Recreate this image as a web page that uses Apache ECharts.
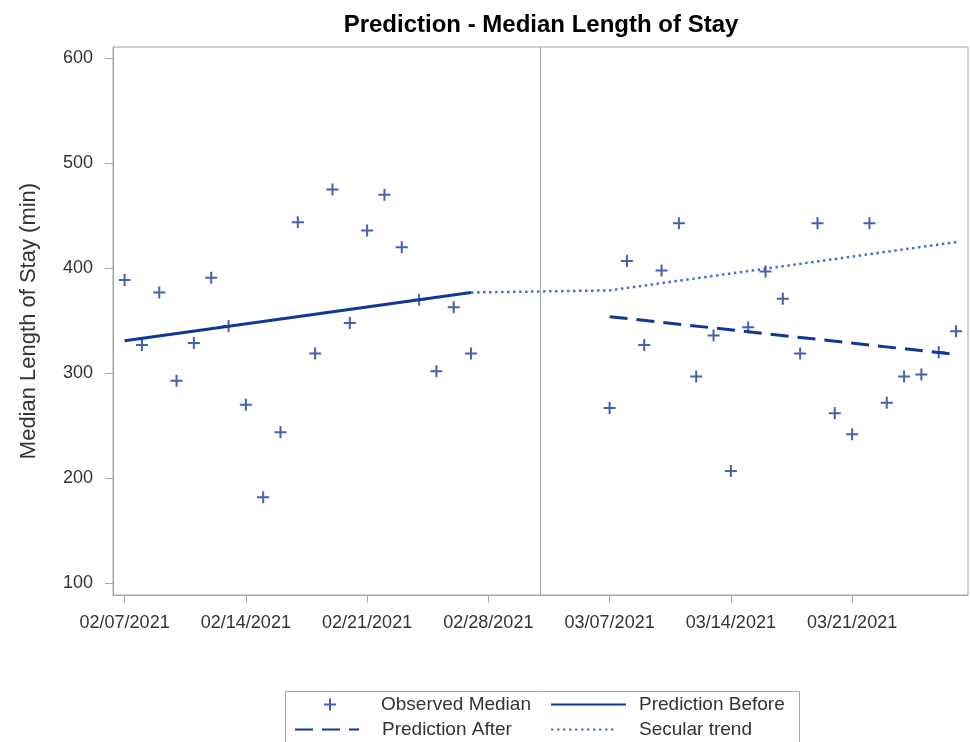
<!DOCTYPE html>
<html>
<head>
<meta charset="utf-8">
<title>Prediction - Median Length of Stay</title>
<script src="https://cdn.jsdelivr.net/npm/echarts@6.0.0/dist/echarts.min.js"></script>
<style>
  html, body { margin: 0; padding: 0; background: #fff; }
  #chart { width: 970px; height: 742px; }
</style>
</head>
<body>
<div id="chart"></div>
<script>
// observed daily medians, before and after the intervention
var beforeDates = ["02/07/2021", "02/08/2021", "02/09/2021", "02/10/2021", "02/11/2021", "02/12/2021", "02/13/2021",
  "02/14/2021", "02/15/2021", "02/16/2021", "02/17/2021", "02/18/2021", "02/19/2021", "02/20/2021",
  "02/21/2021", "02/22/2021", "02/23/2021", "02/24/2021", "02/25/2021", "02/26/2021", "02/27/2021"];
var beforeValues = [389, 327, 377, 293, 329, 391, 345, 270, 182, 244, 444, 319, 475, 348, 436, 470, 420, 370, 302, 363, 319];

var afterDates = ["03/07/2021", "03/08/2021", "03/09/2021", "03/10/2021", "03/11/2021", "03/12/2021", "03/13/2021",
  "03/14/2021", "03/15/2021", "03/16/2021", "03/17/2021", "03/18/2021", "03/19/2021", "03/20/2021",
  "03/21/2021", "03/22/2021", "03/23/2021", "03/24/2021", "03/25/2021", "03/26/2021", "03/27/2021"];
var afterValues = [267, 407, 327, 398, 443, 297, 336, 207, 344, 397, 371, 319, 443, 262, 242, 443, 272, 297, 299, 320, 340];

// fitted lines
var predBeforeDates = ["02/07/2021", "02/27/2021"];
var predBeforeValues = [331, 377];
var predAfterDates = ["03/07/2021", "03/27/2021"];
var predAfterValues = [354, 318];
var secularDates = ["02/27/2021", "03/07/2021", "03/27/2021"];
var secularValues = [377, 379, 425];

var interventionDate = "03/03/2021";
var xTickDates = ["02/07/2021", "02/14/2021", "02/21/2021", "02/28/2021", "03/07/2021", "03/14/2021", "03/21/2021"];
var yTicks = [100, 200, 300, 400, 500, 600];

var DAY = 86400000;
function toTime(s) {
  var p = s.split("/");
  return Date.UTC(+p[2], +p[0] - 1, +p[1]);
}
function fmtDate(v) {
  var d = new Date(v);
  var mm = ("0" + (d.getUTCMonth() + 1)).slice(-2);
  var dd = ("0" + d.getUTCDate()).slice(-2);
  return mm + "/" + dd + "/" + d.getUTCFullYear();
}
function pairs(dates, vals) {
  return dates.map(function (d, i) { return [toTime(d), vals[i]]; });
}

var FONT = "'Liberation Sans', Arial, sans-serif";
var GRAY = "#a2a6aa";
var BLUE = "#163a9c";
var xTicks = xTickDates.map(toTime);
// "+" marker, 12px with 2px arms
var plusPath = "path://M5,0 H7 V5 H12 V7 H7 V12 H5 V7 H0 V5 H5 Z";

var legendText = function (padLeft) {
  return { fontFamily: FONT, fontSize: 19, color: "#333", padding: [0, 0, 0, padLeft] };
};

var myChart = echarts.init(document.getElementById("chart"));
var option = {
  animation: false,
  backgroundColor: "#fff",
  title: {
    text: "Prediction - Median Length of Stay",
    left: 536,
    top: 8,
    textAlign: "center",
    textStyle: { fontFamily: FONT, fontSize: 24, fontWeight: "bold", color: "#000" },
  },
  grid: {
    left: 113,
    right: 2,
    top: 47,
    bottom: 147,
    show: true,
    borderColor: GRAY,
    borderWidth: 1,
  },
  xAxis: {
    type: "value",
    min: toTime(xTickDates[0]) - 0.67 * DAY,
    max: toTime(xTickDates[0]) + 48.69 * DAY,
    axisLine: { show: true, onZero: false, lineStyle: { color: GRAY } },
    axisTick: { show: true, length: 8, customValues: xTicks, lineStyle: { color: GRAY } },
    splitLine: { show: false },
    axisLabel: {
      customValues: xTicks,
      margin: 19,
      fontFamily: FONT,
      fontSize: 18,
      color: "#333",
      formatter: function (v) { return fmtDate(v); },
    },
  },
  yAxis: {
    type: "value",
    min: 88.9,
    max: 610.8,
    name: "Median Length of Stay (min)",
    nameLocation: "middle",
    nameGap: 73,
    nameTextStyle: { fontFamily: FONT, fontSize: 22, color: "#333" },
    axisLine: { show: true, lineStyle: { color: GRAY } },
    axisTick: { show: true, length: 8, customValues: yTicks, lineStyle: { color: GRAY } },
    splitLine: { show: false },
    axisLabel: {
      customValues: yTicks,
      margin: 20,
      fontFamily: FONT,
      fontSize: 18,
      color: "#333",
    },
  },
  legend: [
    {
      data: ["Observed Median"], left: 324, top: 695, padding: 0,
      itemWidth: 12, itemHeight: 12, selectedMode: false,
      textStyle: legendText(40),
    },
    {
      data: ["Prediction Before"], left: 550, top: 695, padding: 0,
      itemWidth: 75, itemHeight: 14, selectedMode: false,
      itemStyle: { opacity: 0 },
      textStyle: legendText(8),
    },
    {
      data: ["Prediction After"], left: 294, top: 720, padding: 0,
      itemWidth: 64, itemHeight: 14, selectedMode: false,
      itemStyle: { opacity: 0 },
      textStyle: legendText(18),
    },
    {
      data: ["Secular trend"], left: 550, top: 720, padding: 0,
      itemWidth: 65, itemHeight: 14, selectedMode: false,
      itemStyle: { opacity: 0 },
      textStyle: legendText(18),
    },
  ],
  graphic: [
    {
      type: "rect",
      left: 283,
      top: 689,
      shape: { width: 514, height: 70 },
      style: { fill: "none", stroke: "#a8a8a8", lineWidth: 1 },
      silent: true,
    },
  ],
  series: [
    {
      name: "Observed Median",
      type: "scatter",
      symbol: plusPath,
      symbolSize: 12,
      itemStyle: { color: BLUE },
      data: pairs(beforeDates, beforeValues).concat(pairs(afterDates, afterValues)),
      z: 5,
      markLine: {
        silent: true,
        symbol: ["none", "none"],
        label: { show: false },
        lineStyle: { color: GRAY, width: 1, type: "solid" },
        data: [{ xAxis: toTime(interventionDate) }],
      },
    },
    {
      name: "Prediction Before",
      type: "line",
      symbol: "none",
      lineStyle: { color: "#0f3796", width: 3, type: "solid" },
      itemStyle: { color: "#0f3796" },
      data: pairs(predBeforeDates, predBeforeValues),
    },
    {
      name: "Prediction After",
      type: "line",
      symbol: "none",
      lineStyle: { color: "#0f3796", width: 3, type: [18, 9] },
      itemStyle: { color: "#0f3796" },
      data: pairs(predAfterDates, predAfterValues),
    },
    {
      name: "Secular trend",
      type: "line",
      symbol: "none",
      lineStyle: { color: "#4c6fc6", width: 2.5, type: [2.5, 3.5] },
      itemStyle: { color: "#4c6fc6" },
      data: pairs(secularDates, secularValues),
    },
  ],
};
option && myChart.setOption(option);
window.addEventListener("resize", function () {
  myChart.resize();
});
</script>
</body>
</html>
